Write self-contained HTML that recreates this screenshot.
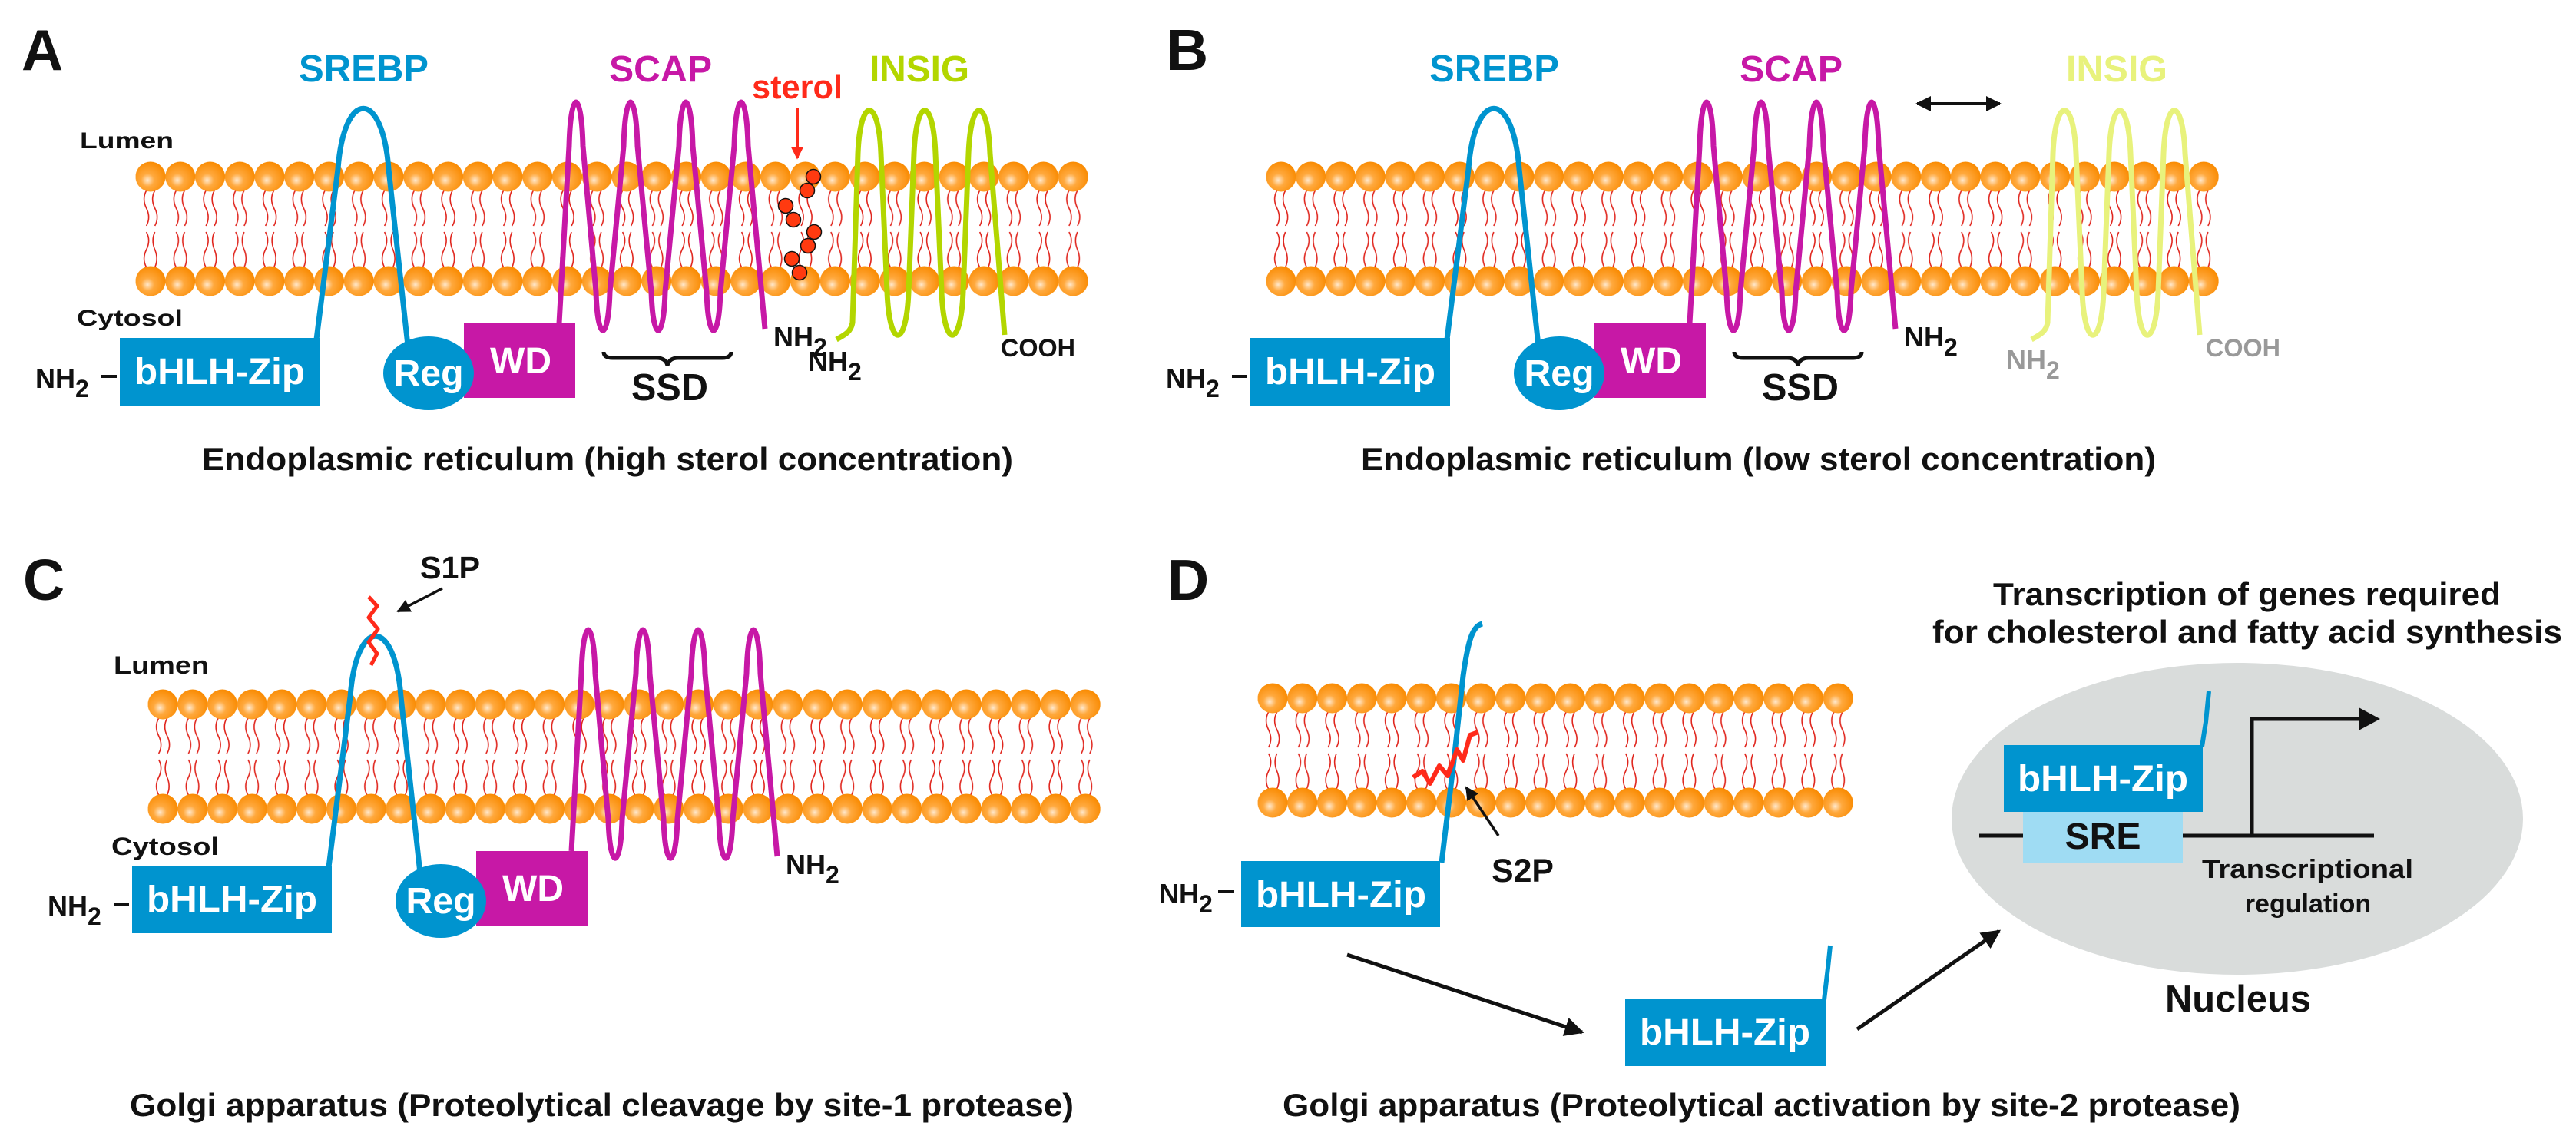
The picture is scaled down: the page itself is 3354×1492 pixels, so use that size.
<!DOCTYPE html>
<html><head><meta charset="utf-8"><style>
html,body{margin:0;padding:0;background:#fff;}
svg{display:block;}
text{font-family:"Liberation Sans",Arial,sans-serif;font-weight:bold;}
</style></head><body>
<svg width="3354" height="1492" viewBox="0 0 3354 1492" xmlns="http://www.w3.org/2000/svg">
<defs>
<radialGradient id="hg" cx="0.42" cy="0.6" r="0.62" fx="0.4" fy="0.62">
<stop offset="0" stop-color="#ffe8cc"/><stop offset="0.35" stop-color="#ffa93e"/><stop offset="1" stop-color="#f98a00"/>
</radialGradient>
<pattern id="mem" patternUnits="userSpaceOnUse" x="-19.375" y="-20" width="38.75" height="196">
<g fill="none" stroke="#e0241c" stroke-width="1.6">
<path d="M14,38 q-6,11 0,23 t0,23"/><path d="M25,38 q-6,11 0,23 t0,23"/>
<path d="M14,92 q6,11 0,23 t0,23"/><path d="M25,92 q-5,11 0,23 t0,23"/>
</g>
<circle cx="19.375" cy="20" r="19.5" fill="url(#hg)"/>
<circle cx="19.375" cy="156" r="19.5" fill="url(#hg)"/>
</pattern>
<marker id="ah" viewBox="0 0 10 10" refX="9" refY="5" markerWidth="5" markerHeight="5" orient="auto-start-reverse">
<path d="M0,0 L10,5 L0,10 z" fill="#111"/></marker>
<marker id="ahr" viewBox="0 0 10 10" refX="9" refY="5" markerWidth="4" markerHeight="4" orient="auto">
<path d="M0,0 L10,5 L0,10 z" fill="#ff2a1a"/></marker>

<g id="core">
<g transform="translate(1668,230)"><rect x="-19.375" y="-20" width="1240" height="196" fill="url(#mem)"/></g>
<path d="M1884,442 L1912,220 C1920,115 1970,115 1978,220 L2003,450" fill="none" stroke="#0094cf" stroke-width="7"/>
<rect x="1628" y="440" width="260" height="88" fill="#0094cf"/>
<text x="1758" y="500" font-size="48" fill="#fff" text-anchor="middle" textLength="222" lengthAdjust="spacingAndGlyphs">bHLH-Zip</text>
<rect x="2076" y="421" width="145" height="97" fill="#c718a6"/>
<text x="2150" y="486" font-size="48" fill="#fff" text-anchor="middle">WD</text>
<ellipse cx="2030" cy="486" rx="59" ry="48" fill="#0094cf"/>
<text x="2030" y="502" font-size="48" fill="#fff" text-anchor="middle" textLength="91" lengthAdjust="spacingAndGlyphs">Reg</text>
<path d="M2200,421 L2213,190 C2215,114 2229,114 2231,190 L2248,380 C2250,447 2264,447 2266,380 L2284,190 C2286,114 2300,114 2302,190 L2320,380 C2322,447 2336,447 2338,380 L2356,190 C2358,114 2372,114 2374,190 L2392,380 C2394,447 2408,447 2410,380 L2428,190 C2430,114 2444,114 2446,190 L2468,428" fill="none" stroke="#c718a6" stroke-width="7"/>
<text x="2479" y="451" font-size="36" fill="#111">NH<tspan dy="12" font-size="32">2</tspan></text>
<text x="1518" y="505" font-size="36" fill="#111">NH<tspan dy="12" font-size="32">2</tspan></text>
<rect x="1604" y="488" width="20" height="4" fill="#111"/>
</g>
</defs>

<!-- Panel A -->
<use href="#core" transform="translate(-1472,0)"/>
<text x="28" y="91" font-size="75" fill="#111">A</text>
<text x="104" y="193" font-size="30" fill="#111" textLength="122" lengthAdjust="spacingAndGlyphs">Lumen</text>
<text x="100" y="424" font-size="30" fill="#111" textLength="138" lengthAdjust="spacingAndGlyphs">Cytosol</text>
<text x="389" y="106" font-size="49" fill="#0094cf" textLength="169" lengthAdjust="spacingAndGlyphs">SREBP</text>
<text x="793" y="106" font-size="48" fill="#c718a6" textLength="134" lengthAdjust="spacingAndGlyphs">SCAP</text>
<text x="1132" y="106" font-size="48" fill="#b3d600" textLength="130" lengthAdjust="spacingAndGlyphs">INSIG</text>
<text x="979" y="128" font-size="44" fill="#ff2a1a" textLength="118" lengthAdjust="spacingAndGlyphs">sterol</text>
<line x1="1038" y1="140" x2="1038" y2="206" stroke="#ff2a1a" stroke-width="4" marker-end="url(#ahr)"/>
<g fill="#ff3a10" stroke="#111" stroke-width="1.5">
<circle cx="1059" cy="230" r="9.5"/><circle cx="1051" cy="248" r="9.5"/><circle cx="1023" cy="268" r="9.5"/><circle cx="1033" cy="286" r="9.5"/>
<circle cx="1060" cy="302" r="9.5"/><circle cx="1052" cy="320" r="9.5"/><circle cx="1031" cy="337" r="9.5"/><circle cx="1041" cy="355" r="9.5"/>
</g>
<path d="M1089,442 C1100,436 1108,432 1110,420 L1117,200 C1120,125 1144,125 1147,200 L1155,380 C1158,455 1180,455 1183,380 L1190,200 C1193,125 1215,125 1218,200 L1226,380 C1229,455 1251,455 1254,380 L1261,200 C1264,125 1286,125 1289,200 L1308,436" fill="none" stroke="#b3d600" stroke-width="7"/>
<text x="1052" y="483" font-size="36" fill="#111">NH<tspan dy="12" font-size="32">2</tspan></text>
<text x="1303" y="464" font-size="32" fill="#111" textLength="97" lengthAdjust="spacingAndGlyphs">COOH</text>
<path d="M786,458 q0,8 12,8 h57 q12,0 14,10 q2,-10 14,-10 h57 q12,0 12,-8" fill="none" stroke="#111" stroke-width="5"/>
<text x="822" y="521" font-size="49" fill="#111" textLength="100" lengthAdjust="spacingAndGlyphs">SSD</text>
<text x="263" y="612" font-size="42" fill="#111" textLength="1056" lengthAdjust="spacingAndGlyphs">Endoplasmic reticulum (high sterol concentration)</text>

<!-- Panel B -->
<use href="#core"/>
<text x="1519" y="91" font-size="75" fill="#111">B</text>
<text x="1861" y="106" font-size="49" fill="#0094cf" textLength="169" lengthAdjust="spacingAndGlyphs">SREBP</text>
<text x="2265" y="106" font-size="48" fill="#c718a6" textLength="134" lengthAdjust="spacingAndGlyphs">SCAP</text>
<text x="2690" y="106" font-size="48" fill="#e8f27c" textLength="132" lengthAdjust="spacingAndGlyphs">INSIG</text>
<line x1="2496" y1="135" x2="2604" y2="135" stroke="#111" stroke-width="4" marker-start="url(#ah)" marker-end="url(#ah)"/>
<path d="M2645,442 C2656,436 2664,432 2666,420 L2673,200 C2676,125 2700,125 2703,200 L2711,380 C2714,455 2736,455 2739,380 L2746,200 C2749,125 2771,125 2774,200 L2782,380 C2785,455 2807,455 2810,380 L2817,200 C2820,125 2842,125 2845,200 L2864,436" fill="none" stroke="#e8f27c" stroke-width="7"/>
<text x="2612" y="481" font-size="36" fill="#999">NH<tspan dy="12" font-size="32">2</tspan></text>
<text x="2872" y="464" font-size="32" fill="#999" textLength="97" lengthAdjust="spacingAndGlyphs">COOH</text>
<path d="M2258,458 q0,8 12,8 h57 q12,0 14,10 q2,-10 14,-10 h57 q12,0 12,-8" fill="none" stroke="#111" stroke-width="5"/>
<text x="2294" y="521" font-size="49" fill="#111" textLength="100" lengthAdjust="spacingAndGlyphs">SSD</text>
<text x="1772" y="612" font-size="42" fill="#111" textLength="1035" lengthAdjust="spacingAndGlyphs">Endoplasmic reticulum (low sterol concentration)</text>

<!-- Panel C -->
<use href="#core" transform="translate(-1456,687)"/>
<text x="30" y="781" font-size="75" fill="#111">C</text>
<text x="148" y="877" font-size="32" fill="#111" textLength="124" lengthAdjust="spacingAndGlyphs">Lumen</text>
<text x="145" y="1113" font-size="32" fill="#111" textLength="140" lengthAdjust="spacingAndGlyphs">Cytosol</text>
<text x="547" y="753" font-size="41" fill="#111" textLength="78" lengthAdjust="spacingAndGlyphs">S1P</text>
<line x1="576" y1="766" x2="518" y2="796" stroke="#111" stroke-width="3.5" marker-end="url(#ah)"/>
<path d="M480,777 L491,789 L480,804 L492,819 L480,836 L491,851 L483,866" fill="none" stroke="#ff2a1a" stroke-width="5" stroke-linejoin="round"/>
<text x="169" y="1453" font-size="42" fill="#111" textLength="1229" lengthAdjust="spacingAndGlyphs">Golgi apparatus (Proteolytical cleavage by site-1 protease)</text>

<!-- Panel D -->
<text x="1520" y="781" font-size="75" fill="#111">D</text>
<g transform="translate(1657,909)"><rect x="-19.375" y="-20" width="775" height="196" fill="url(#mem)"/></g>
<path d="M1877,1123 L1893,990 L1905,880 C1912,830 1918,815 1930,812" fill="none" stroke="#0094cf" stroke-width="7"/>
<path d="M1840,1012 L1852,1004 L1862,1020 L1874,997 L1885,1010 L1897,976 L1905,990 L1914,957 L1925,953" fill="none" stroke="#ff2a1a" stroke-width="6" stroke-linejoin="round"/>
<line x1="1951" y1="1088" x2="1909" y2="1025" stroke="#111" stroke-width="3.5" marker-end="url(#ah)"/>
<text x="1942" y="1148" font-size="43" fill="#111" textLength="81" lengthAdjust="spacingAndGlyphs">S2P</text>
<text x="1509" y="1176" font-size="36" fill="#111">NH<tspan dy="12" font-size="32">2</tspan></text>
<rect x="1586" y="1159" width="21" height="4" fill="#111"/>
<rect x="1616" y="1121" width="259" height="86" fill="#0094cf"/>
<text x="1746" y="1181" font-size="48" fill="#fff" text-anchor="middle" textLength="222" lengthAdjust="spacingAndGlyphs">bHLH-Zip</text>
<line x1="1754" y1="1243" x2="2060" y2="1344" stroke="#111" stroke-width="5" marker-end="url(#ah)"/>
<path d="M2375,1302 L2380,1260 L2383,1231" fill="none" stroke="#0094cf" stroke-width="6"/>
<rect x="2116" y="1300" width="261" height="88" fill="#0094cf"/>
<text x="2246" y="1360" font-size="48" fill="#fff" text-anchor="middle" textLength="222" lengthAdjust="spacingAndGlyphs">bHLH-Zip</text>
<line x1="2418" y1="1340" x2="2603" y2="1212" stroke="#111" stroke-width="5" marker-end="url(#ah)"/>
<ellipse cx="2913" cy="1066" rx="372" ry="203" fill="#d9dcdb"/>
<path d="M2867,972 L2872,940 L2876,900" fill="none" stroke="#0094cf" stroke-width="6"/>
<line x1="2577" y1="1088" x2="3091" y2="1088" stroke="#111" stroke-width="5"/>
<path d="M2932,1088 L2932,936 L3075,936" fill="none" stroke="#111" stroke-width="5"/>
<path d="M3071,921 L3099,936 L3071,951 z" fill="#111"/>
<rect x="2634" y="1057" width="208" height="66" fill="#9fdcf3"/>
<text x="2738" y="1105" font-size="48" fill="#111" text-anchor="middle" textLength="99" lengthAdjust="spacingAndGlyphs">SRE</text>
<rect x="2609" y="970" width="259" height="87" fill="#0094cf"/>
<text x="2738" y="1030" font-size="48" fill="#fff" text-anchor="middle" textLength="222" lengthAdjust="spacingAndGlyphs">bHLH-Zip</text>
<text x="2867" y="1143" font-size="34" fill="#111" textLength="275" lengthAdjust="spacingAndGlyphs">Transcriptional</text>
<text x="3005" y="1188" font-size="34" fill="#111" text-anchor="middle">regulation</text>
<text x="2819" y="1317" font-size="49" fill="#111" textLength="190" lengthAdjust="spacingAndGlyphs">Nucleus</text>
<text x="2595" y="788" font-size="42" fill="#111" textLength="661" lengthAdjust="spacingAndGlyphs">Transcription of genes required</text>
<text x="2516" y="837" font-size="42" fill="#111" textLength="820" lengthAdjust="spacingAndGlyphs">for cholesterol and fatty acid synthesis</text>
<text x="1670" y="1453" font-size="42" fill="#111" textLength="1247" lengthAdjust="spacingAndGlyphs">Golgi apparatus (Proteolytical activation by site-2 protease)</text>
</svg>
</body></html>
